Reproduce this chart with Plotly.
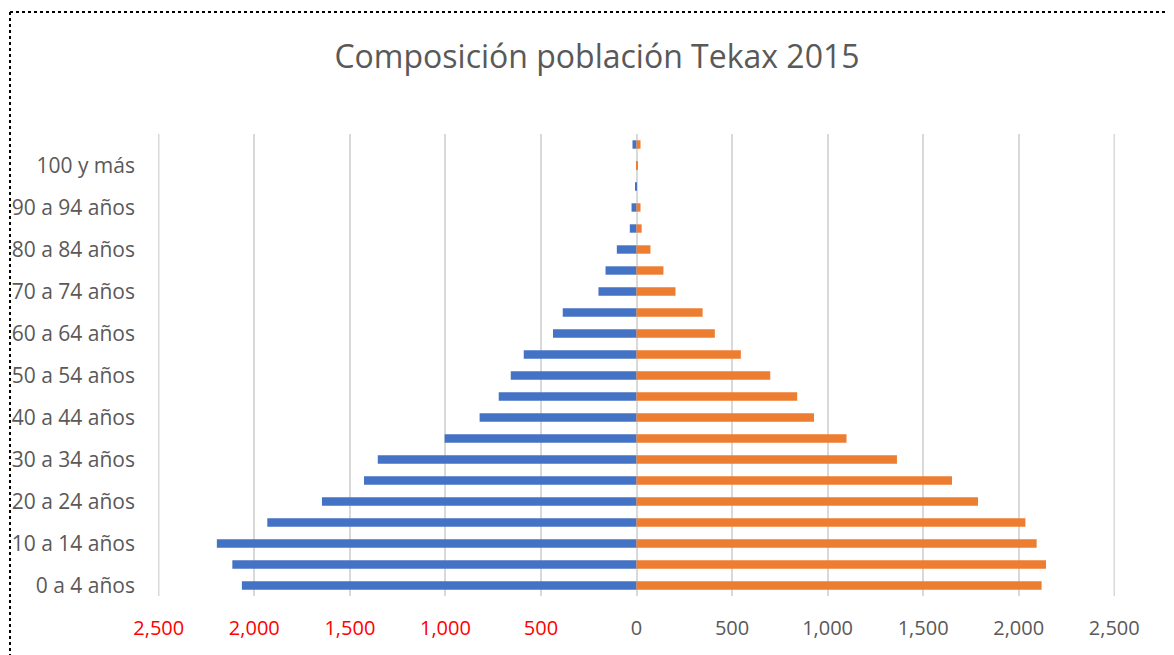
import plotly.graph_objects as go

categories = ["0 a 4 años", "5 a 9 años", "10 a 14 años", "15 a 19 años", "20 a 24 años",
              "25 a 29 años", "30 a 34 años", "35 a 39 años", "40 a 44 años", "45 a 49 años",
              "50 a 54 años", "55 a 59 años", "60 a 64 años", "65 a 69 años", "70 a 74 años",
              "75 a 79 años", "80 a 84 años", "85 a 89 años", "90 a 94 años", "95 a 99 años",
              "100 y más", "No especificado"]
hombres = [2065, 2115, 2196, 1932, 1646, 1426, 1354, 1004, 821, 721,
           658, 590, 437, 386, 199, 162, 103, 35, 26, 3, 1, 21]
mujeres = [2120, 2143, 2094, 2035, 1787, 1651, 1363, 1099, 929, 841,
           700, 546, 410, 346, 204, 141, 73, 27, 21, 0, 4, 21]
shown_labels = categories[0:21:2]
x_ticks = [-2500, -2000, -1500, -1000, -500, 0, 500, 1000, 1500, 2000, 2500]

font_family = "Open Sans"
grey = "#595959"
grid = "#D9D9D9"

ticktext = []
for v in x_ticks:
    s = f"{abs(v):,}"
    if v < 0:
        ticktext.append(f"<span style='color:#FF0000'>{s}</span>")
    else:
        ticktext.append(s)

# page body has an 8px offset; margins compensate
L, T, R, B = 150, 126, 67, 67
W, H = 1174, 655
pw = W - L - R
ph = H - T - B

fig = go.Figure()
fig.add_trace(go.Bar(y=categories, x=[-v for v in hombres], orientation="h",
                     name="Hombres", marker=dict(color="#4472C4", line=dict(width=0)),
                     hoverinfo="skip"))
fig.add_trace(go.Bar(y=categories, x=mujeres, orientation="h",
                     name="Mujeres", marker=dict(color="#ED7D31", line=dict(width=0)),
                     hoverinfo="skip"))

edge_grid = [dict(type="line", xref="x", yref="paper", x0=v, x1=v, y0=0, y1=1,
                  layer="below", line=dict(color=grid, width=1.5))
             for v in (x_ticks[0], x_ticks[-1])]

fig.update_layout(
    width=W, height=H,
    barmode="overlay", bargap=0.6,
    showlegend=False,
    paper_bgcolor="white", plot_bgcolor="white",
    margin=dict(l=L, r=R, t=T, b=B, autoexpand=False),
    font=dict(family=font_family, color=grey, size=20),
    title=dict(text="Composición población Tekax 2015", x=(597 - 8) / W, xanchor="center",
               y=1 - (57 - 8) / H, yanchor="middle",
               font=dict(family=font_family, size=32, color=grey)),
    xaxis=dict(range=[-2504, 2504], tickvals=x_ticks, ticktext=ticktext,
               showgrid=True, gridcolor=grid, gridwidth=1.5,
               zeroline=True, zerolinecolor=grid, zerolinewidth=1.5,
               showline=False, ticks="", ticklabelstandoff=18, automargin=False,
               tickfont=dict(size=20, color=grey, family=font_family)),
    yaxis=dict(type="category", categoryorder="array", categoryarray=categories,
               range=[-0.5, 21.5], tickvals=shown_labels, ticktext=shown_labels,
               showgrid=False, showline=False, ticks="", ticklabelstandoff=22,
               automargin=False,
               tickfont=dict(size=21, color=grey, family=font_family)),
    shapes=edge_grid + [
        dict(type="line", xref="paper", yref="paper",
             x0=(2 - L) / pw, x1=(W - L) / pw,
             y0=(T + ph - 4) / ph, y1=(T + ph - 4) / ph,
             line=dict(color="black", width=2, dash="dot")),
        dict(type="line", xref="paper", yref="paper",
             x0=(2 - L) / pw, x1=(2 - L) / pw,
             y0=(T + ph - 4) / ph, y1=-B / ph,
             line=dict(color="black", width=2, dash="dot")),
    ],
)

fig.write_html("out.html")
